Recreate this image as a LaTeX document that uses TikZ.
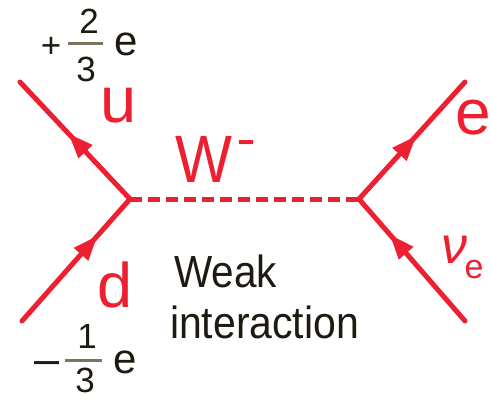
\documentclass[tikz,border=0pt]{standalone}
\usepackage{fontspec}
\setmainfont{Liberation Sans}
\usetikzlibrary{arrows.meta,decorations.markings}
\definecolor{fred}{RGB}{237,32,50}
\definecolor{ftext}{RGB}{30,26,18}
\definecolor{fbar}{RGB}{125,116,92}
\newcommand\fsz[1]{\fontsize{#1}{#1}\selectfont}
\begin{document}
\begin{tikzpicture}[x=1pt,y=-1pt,
  fermion/.style={draw=fred, color=fred, line width=5pt, line cap=round},
  arrowat/.style={postaction={decorate}, decoration={markings,
      mark=at position #1 with {\arrow{Triangle[length=25pt,width=18pt]}}}},
  boson/.style={draw=fred, line width=5pt, dash pattern=on 12pt off 6pt},
  fracbar/.style={draw=fbar, line width=3pt},
  lbl/.style={inner sep=0pt, outer sep=0pt, anchor=base, text=ftext},
  rlbl/.style={inner sep=0pt, outer sep=0pt, anchor=base, text=fred}]
\useasboundingbox (0,0) rectangle (491,400);
% vertices and free ends
\coordinate (V1) at (130,199);
\coordinate (V2) at (359,199);
\coordinate (uend) at (20,82);
\coordinate (dend) at (22,321);
\coordinate (eend) at (465,82);
\coordinate (nuend) at (465,321);
% connectors
\draw[boson] (V1) -- (V2);
\draw[fermion, arrowat=0.56] (V1) -- (uend);
\draw[fermion, arrowat=0.70] (dend) -- (V1);
\draw[fermion, arrowat=0.54] (V2) -- (eend);
\draw[fermion, arrowat=0.71] (nuend) -- (V2);
% particle labels
\node[rlbl] (u) at (118.5,122) {\fsz{65}u};
\node[rlbl] (W) at (203.5,182) {\fsz{67}\scalebox{0.9}[1]{W}};
\node[rlbl] (Wm) at (247,153) {\fsz{34}\bfseries\scalebox{0.85}[1.2]{–}};
\node[rlbl] (d) at (115.5,307) {\fsz{63}d};
\node[rlbl] (e) at (473,134) {\fsz{64}e};
\node[rlbl] (nu) at (454,263) {\fsz{52}\itshape ν};
\node[rlbl] (nue) at (474,278) {\fsz{34}e};
% charges
\node[lbl] (plus) at (51,57) {\fsz{35}+};
\node[lbl] (two) at (89,33) {\fsz{35}2};
\draw[fracbar] (68,43) -- (103,43);
\node[lbl] (three) at (86,81) {\fsz{35}3};
\node[lbl] (etop) at (126,55) {\fsz{42}e};
\node[lbl] (minus) at (47,374) {\fsz{45}–};
\node[lbl] (one) at (87,348) {\fsz{35}1};
\draw[fracbar] (65,360) -- (102,360);
\node[lbl] (three2) at (85,392) {\fsz{35}3};
\node[lbl] (ebot) at (125,373) {\fsz{42}e};
% caption
\node[lbl, anchor=base west] (weak) at (174,287) {\fsz{45}\scalebox{0.9}[1]{Weak}};
\node[lbl, anchor=base west] (inter) at (170,338) {\fsz{45}\scalebox{0.91}[1]{interaction}};
\end{tikzpicture}
\end{document}
